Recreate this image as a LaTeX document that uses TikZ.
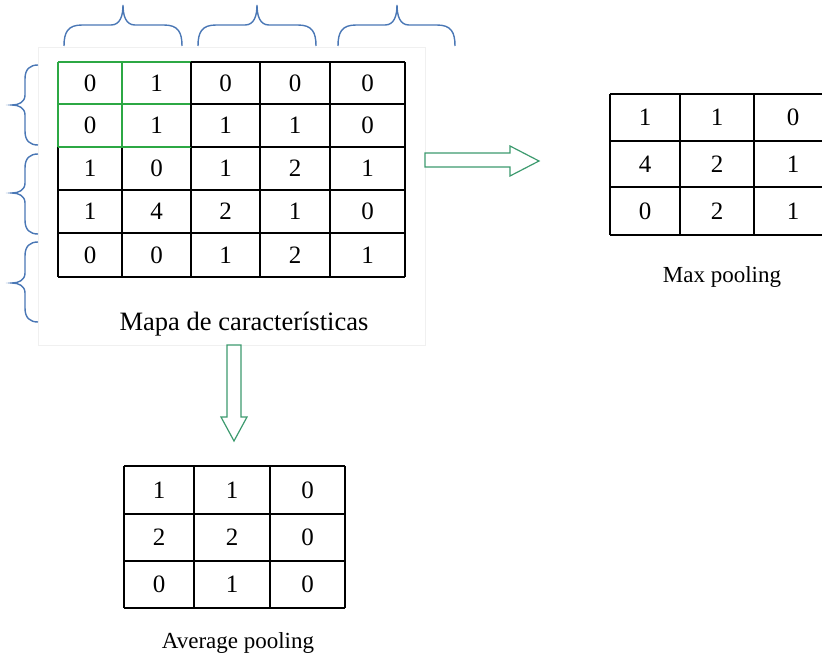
\documentclass[tikz,border=0pt]{standalone}
\usepackage{fontspec}
\setmainfont{Liberation Serif}
\definecolor{gridgreen}{HTML}{2CA844}
\definecolor{arrowgreen}{HTML}{3C9A6E}
\definecolor{braceblue}{HTML}{4A77B5}
\tikzset{
  gridline/.style={line width=1.4pt, black},
  greenline/.style={line width=1.4pt, gridgreen},
  bracestyle/.style={line width=1.4pt, braceblue},
  fatarrow/.style={line width=1.2pt, arrowgreen, fill=white, line join=miter},
  digit/.style={font=\fontsize{25}{29}\selectfont, inner sep=0pt},
  caption/.style={font=\fontsize{23}{27}\selectfont, inner sep=0pt},
  bigcaption/.style={font=\fontsize{26.5}{30}\selectfont, inner sep=0pt},
  framebox/.style={draw=black!6, line width=0.6pt}
}
\newcommand\topbrace[3]{%
  \draw[bracestyle] (#1,46) .. controls (#1,32) and ({#1+4},25) .. ({#1+18},25)
    -- ({#2-12},25) .. controls ({#2-3},25) and (#2,16) .. (#2,5)
    .. controls (#2,16) and ({#2+3},25) .. ({#2+12},25)
    -- ({#3-18},25) .. controls ({#3-4},25) and (#3,32) .. (#3,46);}
\newcommand\leftbrace[3]{%
  \draw[bracestyle] (38,#1) .. controls (30,#1) and (25,{#1+4}) .. (25,{#1+14})
    -- (25,{#2-10}) .. controls (25,{#2-3}) and (19,#2) .. (12,#2)
    .. controls (19,#2) and (25,{#2+3}) .. (25,{#2+10})
    -- (25,{#3-14}) .. controls (25,{#3-4}) and (30,#3) .. (38,#3);}
\begin{document}
\begin{tikzpicture}[x=1pt,y=-1pt]
\useasboundingbox (0,0) rectangle (822,658);
\clip (0,0) rectangle (822,658);
% faint frame around feature map
\draw[framebox] (38,47) rectangle (425,345);
% braces
\topbrace{64}{123}{182}
\topbrace{198}{257}{316}
\topbrace{338}{397}{455}
\leftbrace{65}{105}{145}
\leftbrace{154}{193}{234}
\leftbrace{242}{283}{322}
% main grid
\foreach \x in {58,122,191,260,330,405} \draw[gridline] (\x,62) -- (\x,277);
\foreach \y in {62,104,147,190,233,277} \draw[gridline] (58,\y) -- (405,\y);
% green highlight window
\draw[greenline] (58,62) -- (191,62);
\draw[greenline] (58,104) -- (191,104);
\draw[greenline] (58,147) -- (191,147);
\draw[greenline] (58,62) -- (58,147);
\draw[greenline] (122,62) -- (122,147);
\draw[gridline] (191,62) -- (191,147);
% main grid digits
\foreach \x/\v [count=\c] in {90/0,156.5/1,225.5/0,295/0,367.5/0} \node[digit] (m-1-\c) at (\x,83) {\v};
\foreach \x/\v [count=\c] in {90/0,156.5/1,225.5/1,295/1,367.5/0} \node[digit] (m-2-\c) at (\x,125.5) {\v};
\foreach \x/\v [count=\c] in {90/1,156.5/0,225.5/1,295/2,367.5/1} \node[digit] (m-3-\c) at (\x,168.5) {\v};
\foreach \x/\v [count=\c] in {90/1,156.5/4,225.5/2,295/1,367.5/0} \node[digit] (m-4-\c) at (\x,211.5) {\v};
\foreach \x/\v [count=\c] in {90/0,156.5/0,225.5/1,295/2,367.5/1} \node[digit] (m-5-\c) at (\x,255) {\v};
\node[bigcaption] (maplabel) at (244,324) {Mapa de características};
% max pooling table
\foreach \x in {610,680,754,832} \draw[gridline] (\x,94) -- (\x,235);
\foreach \y in {94,141,187,235} \draw[gridline] (610,\y) -- (832,\y);
\foreach \x/\v [count=\c] in {645/1,717/1,793/0} \node[digit] (x-1-\c) at (\x,117.5) {\v};
\foreach \x/\v [count=\c] in {645/4,717/2,793/1} \node[digit] (x-2-\c) at (\x,164) {\v};
\foreach \x/\v [count=\c] in {645/0,717/2,793/1} \node[digit] (x-3-\c) at (\x,211) {\v};
\node[caption] (maxlabel) at (722,277) {Max pooling};
% average pooling table
\foreach \x in {124,194,270,345} \draw[gridline] (\x,466) -- (\x,608);
\foreach \y in {466,514,561,608} \draw[gridline] (124,\y) -- (345,\y);
\foreach \x/\v [count=\c] in {159/1,232/1,307.5/0} \node[digit] (a-1-\c) at (\x,490) {\v};
\foreach \x/\v [count=\c] in {159/2,232/2,307.5/0} \node[digit] (a-2-\c) at (\x,537.5) {\v};
\foreach \x/\v [count=\c] in {159/0,232/1,307.5/0} \node[digit] (a-3-\c) at (\x,584.5) {\v};
\node[caption] (avglabel) at (238,643) {Average pooling};
% block arrows
\draw[fatarrow] (425,153) -- (510,153) -- (510,146) -- (539,161) -- (510,176) -- (510,167) -- (425,167) -- cycle;
\draw[fatarrow] (227,345) -- (241,345) -- (241,417) -- (247,417) -- (234,441) -- (221,417) -- (227,417) -- cycle;
\end{tikzpicture}
\end{document}
